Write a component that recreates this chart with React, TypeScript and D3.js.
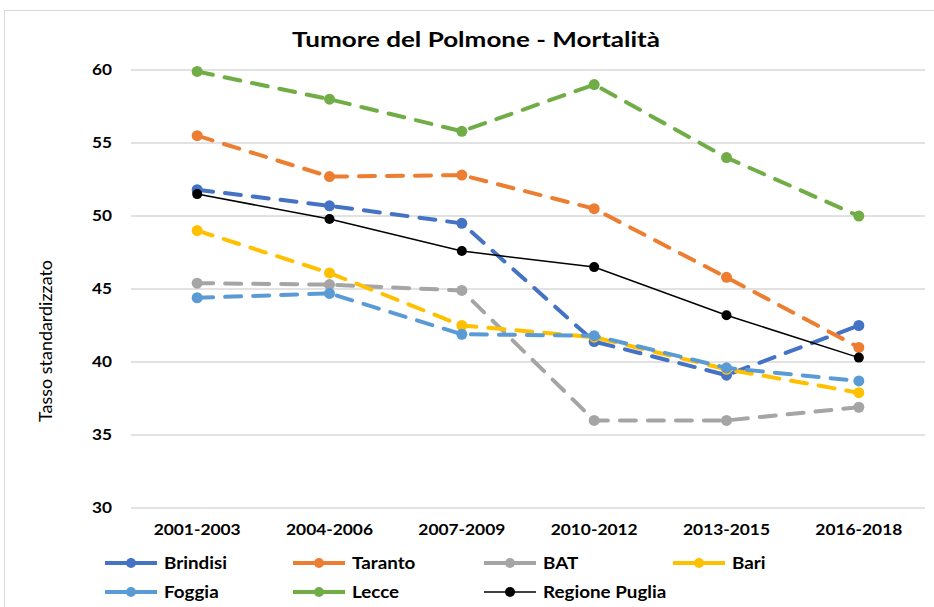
import React from "react";
import * as d3 from "d3";

const categories = ["2001-2003", "2004-2006", "2007-2009", "2010-2012", "2013-2015", "2016-2018"];
const yTicks = [30, 35, 40, 45, 50, 55, 60];

const brindisi = [51.8, 50.7, 49.5, 41.4, 39.1, 42.5];
const taranto = [55.5, 52.7, 52.8, 50.5, 45.8, 41.0];
const bat = [45.4, 45.3, 44.9, 36.0, 36.0, 36.9];
const bari = [49.0, 46.1, 42.5, 41.7, 39.5, 37.9];
const foggia = [44.4, 44.7, 41.9, 41.8, 39.6, 38.7];
const lecce = [59.9, 58.0, 55.8, 59.0, 54.0, 50.0];
const puglia = [51.5, 49.8, 47.6, 46.5, 43.2, 40.3];

const seriesNames = ["Brindisi", "Taranto", "BAT", "Bari", "Foggia", "Lecce", "Regione Puglia"];
const seriesValues = [brindisi, taranto, bat, bari, foggia, lecce, puglia];
const seriesColors = ["#4472C4", "#ED7D31", "#A5A5A5", "#FFC000", "#5B9BD5", "#70AD47", "#000000"];

const FONT = "Lato, 'Open Sans', sans-serif";

export default function App() {
  const W = 934, H = 607;
  const left = 131, right = 925, top = 70, bottom = 508;
  const x = d3.scaleBand<string>().domain(categories).range([left, right]);
  const y = d3.scaleLinear().domain([30, 60]).range([bottom, top]);
  const cx = (c: string) => (x(c) as number) + x.bandwidth() / 2;

  const drawOrder = [0, 1, 2, 3, 4, 5, 6];

  const legendPos = [
    [105, 563], [293, 563], [484, 563], [673, 563],
    [105, 592], [293, 592], [484, 592],
  ];

  return (
    <svg width={W} height={H} style={{ position: "absolute", left: 0, top: 0, background: "#fff" }} fontFamily={FONT}>
      <rect x={4.5} y={10.5} width={940} height={620} fill="#fff" stroke="#D9D9D9" strokeWidth={1} />
      <text x={476} y={47} textAnchor="middle" fontSize={21} fontWeight="bold" fill="#000"
        textLength={368} lengthAdjust="spacingAndGlyphs">
        Tumore del Polmone - Mortalità
      </text>
      {yTicks.map((t) => (
        <g key={t}>
          <line x1={left} x2={right} y1={y(t)} y2={y(t)} stroke="#D9D9D9" strokeWidth={1.3} />
          <text x={112} y={y(t) + 5} textAnchor="end" fontSize={14.5} fontWeight="bold" fill="#000"
            textLength={20} lengthAdjust="spacingAndGlyphs">{t}</text>
        </g>
      ))}
      {categories.map((c) => (
        <text key={c} x={cx(c)} y={535} textAnchor="middle" fontSize={15} fontWeight="bold" fill="#000"
          textLength={87} lengthAdjust="spacingAndGlyphs">{c}</text>
      ))}
      <text transform={`translate(52,341) rotate(-90)`} textAnchor="middle" fontSize={17} fill="#000"
        textLength={162} lengthAdjust="spacingAndGlyphs">
        Tasso standardizzato
      </text>
      {drawOrder.map((i) => {
        const vals = seriesValues[i];
        const isLine = i === 6;
        const line = d3.line<number>().x((_, k) => cx(categories[k])).y((v) => y(v));
        return (
          <g key={seriesNames[i]}>
            <path
              d={line(vals) || ""}
              fill="none"
              stroke={seriesColors[i]}
              strokeWidth={isLine ? 1.5 : 4}
              strokeDasharray={isLine ? undefined : "16 12"}
              strokeLinecap="round"
            />
            {vals.map((v, k) => (
              <circle key={k} cx={cx(categories[k])} cy={y(v)} r={isLine ? 5 : 5.5} fill={seriesColors[i]} />
            ))}
          </g>
        );
      })}
      {seriesNames.map((n, i) => {
        const [lx, ly] = legendPos[i];
        const isLine = i === 6;
        return (
          <g key={n}>
            <line x1={lx} x2={lx + 52} y1={ly} y2={ly} stroke={seriesColors[i]} strokeWidth={isLine ? 1.5 : 4} />
            <circle cx={lx + 26} cy={ly} r={5} fill={seriesColors[i]} />
            <text transform={`translate(${lx + 59},${ly + 6}) scale(1.14,1)`} fontSize={16.5} fontWeight="bold" fill="#000">{n}</text>
          </g>
        );
      })}
    </svg>
  );
}
